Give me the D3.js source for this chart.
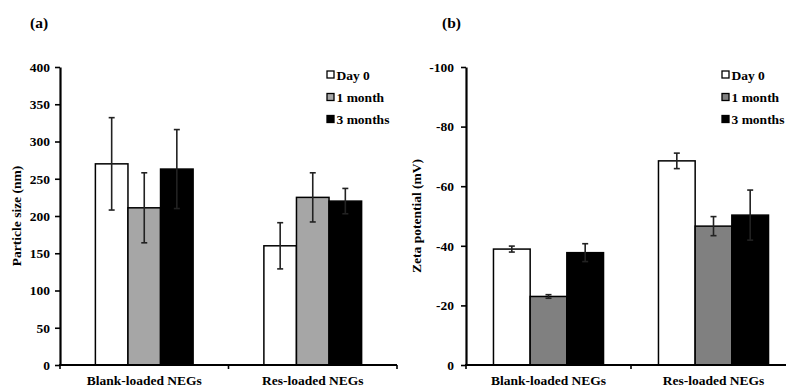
<!DOCTYPE html>
<html>
<head>
<meta charset="utf-8">
<script src="https://cdn.jsdelivr.net/npm/d3@7/dist/d3.min.js"></script>
<style>
  html, body { margin: 0; padding: 0; background: #fff; }
  svg { display: block; font-family: "Liberation Serif", "Times New Roman", serif; font-weight: bold; }
</style>
</head>
<body>
<svg id="chart" width="786" height="388"></svg>
<script>
const categories = ["Blank-loaded NEGs", "Res-loaded NEGs"];
const seriesNames = ["Day 0", "1 month", "3 months"];

// Panel (a): particle size (nm)
const sizeDay0 = [270, 160];
const sizeDay0Err = [62, 31];
const size1m = [211, 225];
const size1mErr = [47, 33];
const size3m = [263, 220];
const size3mErr = [53, 17];
const sizeTicks = [0, 50, 100, 150, 200, 250, 300, 350, 400];

// Panel (b): zeta potential (mV)
const zetaDay0 = [-38.9, -68.5];
const zetaDay0Err = [1.0, 2.6];
const zeta1m = [-23.0, -46.6];
const zeta1mErr = [0.6, 3.2];
const zeta3m = [-37.7, -50.3];
const zeta3mErr = [3.0, 8.4];
const zetaTicks = [0, -20, -40, -60, -80, -100];

const svg = d3.select("#chart");

function panel(opts) {
  const g = svg.append("g");
  const y = d3.scaleLinear().domain(opts.domain).range([365, 67]);
  const x0 = d3.scaleBand().domain(categories).range([opts.x0, opts.x1]).padding(0);
  const groupW = x0.bandwidth() * opts.groupFrac;
  const x1 = d3.scaleBand().domain(seriesNames).range([-groupW / 2, groupW / 2]).padding(0);

  const seriesData = [
    { name: seriesNames[0], vals: opts.vals[0], errs: opts.errs[0], fill: "#ffffff" },
    { name: seriesNames[1], vals: opts.vals[1], errs: opts.errs[1], fill: opts.gray },
    { name: seriesNames[2], vals: opts.vals[2], errs: opts.errs[2], fill: "#000000" }
  ];

  // bars
  seriesData.forEach(s => {
    categories.forEach((c, i) => {
      const cx = x0(c) + x0.bandwidth() / 2;
      const bx = cx + x1(s.name);
      const v = s.vals[i];
      g.append("rect")
        .attr("x", bx).attr("y", y(v))
        .attr("width", x1.bandwidth()).attr("height", y(0) - y(v))
        .attr("fill", s.fill).attr("stroke", "#000").attr("stroke-width", 1.5);
    });
  });
  // error bars
  seriesData.forEach(s => {
    categories.forEach((c, i) => {
      const cx = x0(c) + x0.bandwidth() / 2 + x1(s.name) + x1.bandwidth() / 2;
      const v = s.vals[i], e = s.errs[i];
      const sign = opts.domain[1] < 0 ? -1 : 1;
      const top = y(v + sign * e), bot = y(v - sign * e);
      const col = "#222";
      g.append("line").attr("x1", cx).attr("x2", cx).attr("y1", top).attr("y2", bot)
        .attr("stroke", col).attr("stroke-width", 1.6);
      [top, bot].forEach(yy => g.append("line")
        .attr("x1", cx - 3).attr("x2", cx + 3).attr("y1", yy).attr("y2", yy)
        .attr("stroke", col).attr("stroke-width", 1.6));
    });
  });

  // y axis
  const yAxis = d3.axisLeft(y).tickValues(opts.ticks).tickSize(5).tickSizeOuter(0).tickPadding(opts.tickPad)
    .tickFormat(d => String(d));
  const ya = g.append("g").attr("transform", `translate(${opts.x0},0)`).call(yAxis);
  ya.select(".domain").attr("stroke", "#000").attr("stroke-width", 2.2);
  ya.selectAll(".tick line").attr("stroke", "#000").attr("stroke-width", 1.6);
  ya.selectAll(".tick text").attr("font-size", 13.5).attr("font-family", "Liberation Serif")
    .attr("font-weight", "bold").attr("fill", "#000");

  // x axis line and boundary ticks
  g.append("line").attr("x1", opts.x0 - 1).attr("x2", opts.x1).attr("y1", y(0)).attr("y2", y(0))
    .attr("stroke", "#000").attr("stroke-width", 2.2);
  const bounds = categories.map(c => x0(c)).concat([x0.range()[1]]);
  bounds.forEach(bx => g.append("line").attr("x1", bx).attr("x2", bx)
    .attr("y1", y(0)).attr("y2", y(0) + 4).attr("stroke", "#000").attr("stroke-width", 1.6));
  categories.forEach(c => g.append("text")
    .attr("x", x0(c) + x0.bandwidth() / 2).attr("y", 384.5)
    .attr("text-anchor", "middle").attr("font-size", 13.5).text(c));

  // y label
  g.append("text").attr("transform", `translate(${opts.labelX},216) rotate(-90)`)
    .attr("text-anchor", "middle").attr("font-size", 13.5).text(opts.label);

  // title
  g.append("text").attr("x", opts.titleX).attr("y", 28).attr("font-size", 15.5).text(opts.title);

  // legend
  seriesData.forEach((s, i) => {
    const ly = [75, 97.5, 119.5][i];
    g.append("rect").attr("x", opts.legX).attr("y", ly - 4).attr("width", 7).attr("height", 7)
      .attr("fill", s.fill).attr("stroke", "#000").attr("stroke-width", 1.3);
    g.append("text").attr("x", opts.legX + 9.5).attr("y", ly + 4.5)
      .attr("font-size", opts.legFont).text(s.name);
  });
}

panel({
  domain: [0, 400], ticks: sizeTicks, x0: 60, x1: 397, groupFrac: 0.58,
  vals: [sizeDay0, size1m, size3m], errs: [sizeDay0Err, size1mErr, size3mErr],
  gray: "#a6a6a6", tickPad: 5, label: "Particle size (nm)", labelX: 21,
  title: "(a)", titleX: 30, legX: 327, legFont: 13.5
});

panel({
  domain: [0, -100], ticks: zetaTicks, x0: 466, x1: 796, groupFrac: 0.667,
  vals: [zetaDay0, zeta1m, zeta3m], errs: [zetaDay0Err, zeta1mErr, zeta3mErr],
  gray: "#808080", tickPad: 7, label: "Zeta potential (mV)", labelX: 421,
  title: "(b)", titleX: 442, legX: 722, legFont: 13.5
});
</script>
</body>
</html>
